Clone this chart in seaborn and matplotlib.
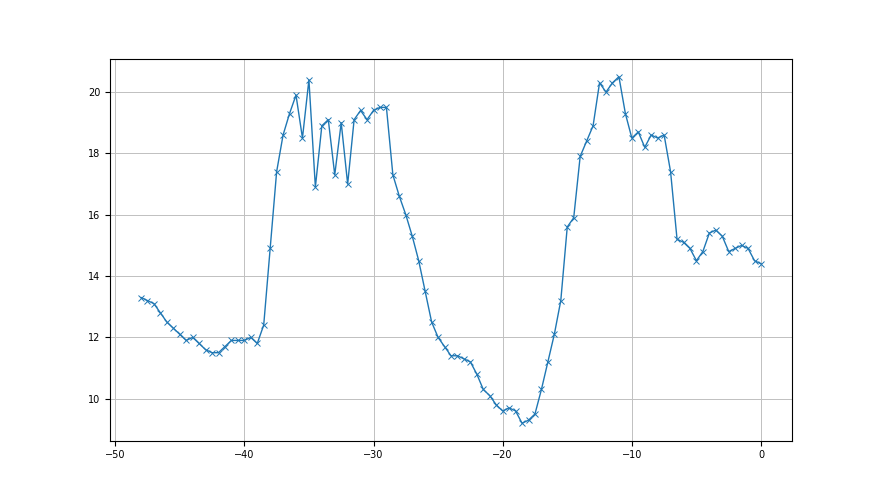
import numpy as np
import pandas as pd
import matplotlib
matplotlib.use("Agg")
import matplotlib.pyplot as plt
import seaborn as sns

x_values = [-48 + 0.5 * i for i in range(97)]
y_values = [
    13.3, 13.2, 13.1, 12.8, 12.5, 12.3, 12.1, 11.9, 12.0, 11.8,
    11.6, 11.5, 11.5, 11.7, 11.9, 11.9, 11.9, 12.0, 11.8, 12.4,
    14.9, 17.4, 18.6, 19.3, 19.9, 18.5, 20.4, 16.9, 18.9, 19.1,
    17.3, 19.0, 17.0, 19.1, 19.4, 19.1, 19.4, 19.5, 19.5, 17.3,
    16.6, 16.0, 15.3, 14.5, 13.5, 12.5, 12.0, 11.7, 11.4, 11.4,
    11.3, 11.2, 10.8, 10.3, 10.1, 9.8, 9.6, 9.7, 9.6, 9.2,
    9.3, 9.5, 10.3, 11.2, 12.1, 13.2, 15.6, 15.9, 17.9, 18.4,
    18.9, 20.3, 20.0, 20.3, 20.5, 19.3, 18.5, 18.7, 18.2, 18.6,
    18.5, 18.6, 17.4, 15.2, 15.1, 14.9, 14.5, 14.8, 15.4, 15.5,
    15.3, 14.8, 14.9, 15.0, 14.9, 14.5, 14.4,
]

df = pd.DataFrame({"x": x_values, "y": y_values})

fig, ax = plt.subplots(figsize=(8.8, 4.95), dpi=100)
sns.lineplot(data=df, x="x", y="y", ax=ax, marker="x", markersize=4,
             color="#1f77b4", linewidth=1.0, markeredgewidth=0.7,
             markeredgecolor="#1f77b4")
ax.grid(True, color="#c0c0c0", linewidth=0.7)
ax.set_axisbelow(True)
ax.set_xlabel("")
ax.set_ylabel("")
ax.tick_params(labelsize=7)
ax.margins(x=0.05, y=0.05)
fig.savefig("out.png", dpi=100)
